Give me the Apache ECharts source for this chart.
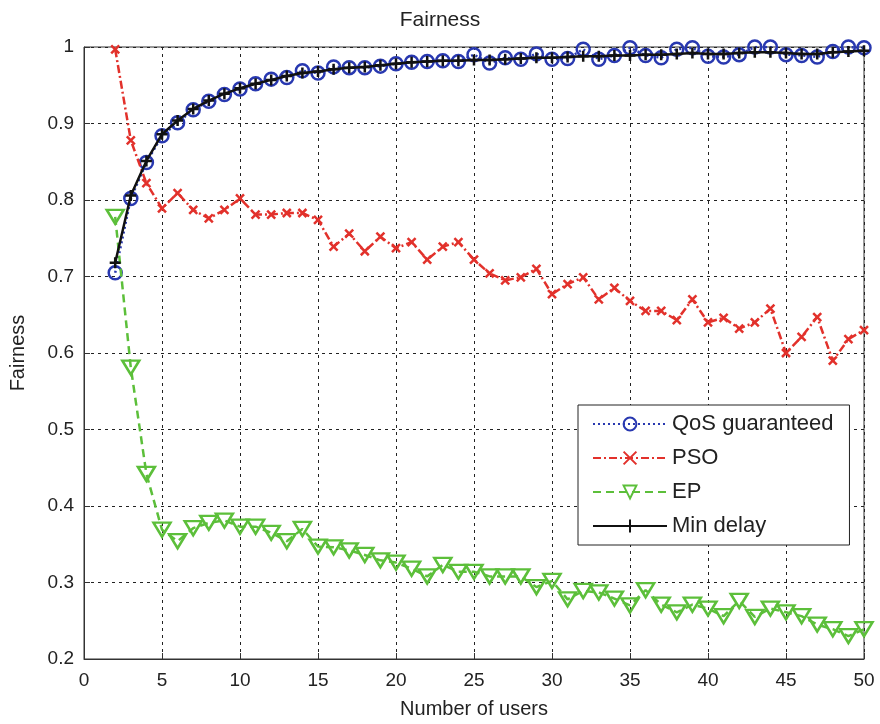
<!DOCTYPE html>
<html>
<head>
<meta charset="utf-8">
<script src="https://cdn.jsdelivr.net/npm/echarts@6/dist/echarts.min.js"></script>
<style>
  html, body { margin: 0; padding: 0; background: #fff; }
  #main { width: 880px; height: 724px; }
</style>
</head>
<body>
<div id="main"></div>
<script>
// number of users 2..50
var users = [];
for (var u = 2; u <= 50; u++) users.push(u);

var qosData = [0.705, 0.802, 0.849, 0.884, 0.901, 0.918, 0.929, 0.938, 0.945, 0.952,
  0.958, 0.960, 0.969, 0.966, 0.974, 0.973, 0.973, 0.975, 0.978, 0.980,
  0.981, 0.982, 0.981, 0.990, 0.979, 0.986, 0.984, 0.991, 0.984, 0.985,
  0.997, 0.984, 0.989, 0.999, 0.989, 0.986, 0.997, 0.999, 0.988, 0.987,
  0.990, 1.000, 1.000, 0.990, 0.989, 0.987, 0.994, 1.000, 0.999];

var psoData = [0.997, 0.878, 0.822, 0.789, 0.809, 0.787, 0.776, 0.787, 0.802, 0.781,
  0.781, 0.783, 0.783, 0.774, 0.739, 0.756, 0.733, 0.752, 0.737, 0.745,
  0.722, 0.739, 0.745, 0.722, 0.704, 0.695, 0.699, 0.710, 0.677, 0.690,
  0.699, 0.670, 0.685, 0.668, 0.655, 0.655, 0.643, 0.670, 0.640, 0.646,
  0.632, 0.640, 0.658, 0.600, 0.621, 0.647, 0.590, 0.618, 0.630];

var epData = [0.778, 0.581, 0.442, 0.369, 0.354, 0.371, 0.378, 0.381, 0.373, 0.373,
  0.365, 0.354, 0.370, 0.347, 0.346, 0.342, 0.336, 0.329, 0.326, 0.318,
  0.308, 0.323, 0.314, 0.314, 0.308, 0.308, 0.308, 0.294, 0.302, 0.278,
  0.289, 0.287, 0.279, 0.270, 0.290, 0.271, 0.261, 0.271, 0.266, 0.256,
  0.276, 0.255, 0.266, 0.261, 0.256, 0.245, 0.239, 0.230, 0.239];

var minDelayData = [0.718, 0.806, 0.851, 0.886, 0.904, 0.919, 0.930, 0.939, 0.946, 0.952,
  0.957, 0.962, 0.966, 0.968, 0.971, 0.973, 0.974, 0.976, 0.978, 0.980,
  0.981, 0.982, 0.982, 0.983, 0.983, 0.984, 0.985, 0.986, 0.986, 0.987,
  0.988, 0.988, 0.989, 0.989, 0.990, 0.990, 0.991, 0.992, 0.991, 0.991,
  0.992, 0.993, 0.993, 0.992, 0.991, 0.991, 0.993, 0.994, 0.995];

function pairs(arr) {
  return arr.map(function (v, i) { return [users[i], v]; });
}

var fontName = 'Liberation Sans';
var plusPath = 'path://M5 0 L5 10 M0 5 L10 5';
var crossPath = 'path://M0 0 L10 10 M10 0 L0 10';

var chart = echarts.init(document.getElementById('main'));
var option = {
  backgroundColor: '#fff',
  animation: false,
  textStyle: { fontFamily: fontName },
  title: {
    text: 'Fairness',
    left: 'center',
    top: 5,
    textStyle: { fontFamily: fontName, fontSize: 21, fontWeight: 'normal', color: '#222' }
  },
  grid: {
    left: 83, right: 16, top: 47, bottom: 62,
    show: true, borderColor: '#333', borderWidth: 1
  },
  legend: {
    orient: 'vertical',
    left: 578, top: 405,
    backgroundColor: '#fff',
    borderColor: '#222', borderWidth: 1,
    padding: [8, 16, 8, 14],
    itemGap: 12,
    itemWidth: 74, itemHeight: 16,
    textStyle: { fontFamily: fontName, fontSize: 22, color: '#222' },
    data: ['QoS guaranteed', 'PSO', 'EP', 'Min delay']
  },
  xAxis: {
    type: 'value',
    min: 0, max: 50, interval: 5,
    name: 'Number of users',
    nameLocation: 'middle',
    nameGap: 40,
    nameTextStyle: { fontFamily: fontName, fontSize: 20, color: '#222' },
    axisLine: { lineStyle: { color: '#333' } },
    axisTick: { inside: true, length: 6, lineStyle: { color: '#333' } },
    axisLabel: { fontFamily: fontName, fontSize: 19, color: '#222', margin: 12 },
    splitLine: { show: true, lineStyle: { color: '#222', type: [3, 4], width: 1 } }
  },
  yAxis: {
    type: 'value',
    min: 0.2, max: 1, interval: 0.1,
    name: 'Fairness',
    nameLocation: 'middle',
    nameGap: 56,
    nameTextStyle: { fontFamily: fontName, fontSize: 20, color: '#222' },
    axisLine: { show: true, lineStyle: { color: '#333' } },
    axisTick: { show: true, inside: true, length: 6, lineStyle: { color: '#333' } },
    axisLabel: {
      fontFamily: fontName, fontSize: 19, color: '#222', margin: 10,
      formatter: function (v) { return Math.abs(v - 1) < 1e-9 ? '1' : v.toFixed(1); }
    },
    splitLine: { show: true, lineStyle: { color: '#222', type: [3, 4], width: 1 } }
  },
  series: [
    {
      name: 'QoS guaranteed',
      type: 'line',
      data: pairs(qosData),
      symbol: 'circle',
      symbolSize: 13,
      itemStyle: { color: 'rgba(255,255,255,0)', borderColor: '#2838b0', borderWidth: 2.5 },
      lineStyle: { color: '#2838b0', width: 2.5, type: [2, 3] },
      z: 2
    },
    {
      name: 'PSO',
      type: 'line',
      data: pairs(psoData),
      symbol: crossPath,
      symbolSize: 8,
      itemStyle: { color: '#e2312b', borderColor: '#e2312b', borderWidth: 2.5 },
      lineStyle: { color: '#e2312b', width: 2.5, type: [8, 3, 2, 3] },
      z: 3
    },
    {
      name: 'EP',
      type: 'line',
      data: pairs(epData),
      symbol: 'triangle',
      symbolRotate: 180,
      symbolSize: [17, 14],
      itemStyle: { color: 'rgba(255,255,255,0)', borderColor: '#5cbf3a', borderWidth: 2.5 },
      lineStyle: { color: '#5cbf3a', width: 2.5, type: [8, 5] },
      z: 4
    },
    {
      name: 'Min delay',
      type: 'line',
      data: pairs(minDelayData),
      symbol: plusPath,
      symbolSize: 11,
      itemStyle: { color: '#111', borderColor: '#111', borderWidth: 2.5 },
      lineStyle: { color: '#111', width: 2.5, type: 'solid' },
      z: 5
    }
  ]
};
chart.setOption(option);
</script>
</body>
</html>
